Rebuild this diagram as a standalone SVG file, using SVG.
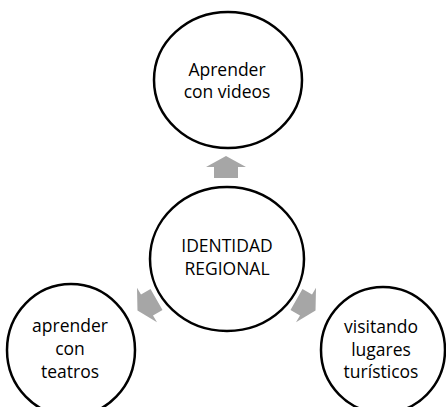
<svg xmlns="http://www.w3.org/2000/svg" width="446" height="407" viewBox="0 0 446 407">
<style>
.node ellipse{fill:#fff;stroke:#000;stroke-width:2.5}
.node text{font-family:"Open Sans","Liberation Sans",sans-serif;font-size:17.5px;fill:#000;text-anchor:middle}
.arrow{fill:#a6a6a6}
</style>
<defs>
<polygon id="arr" points="0,-11 20,0 12,0 12,11 -12,11 -12,0 -20,0"/>
</defs>
<rect width="446" height="407" fill="#fff"/>
<g id="connectors">
<use href="#arr" class="arrow" transform="translate(226,167)"/>
<use href="#arr" class="arrow" transform="translate(147,305) rotate(-120)"/>
<use href="#arr" class="arrow" transform="translate(306,305) rotate(120)"/>
</g>
<g id="n-top" class="node">
<ellipse cx="228" cy="80" rx="74" ry="68"/>
<text x="227" y="76">Aprender</text>
<text x="227" y="98">con videos</text>
</g>
<g id="n-center" class="node">
<ellipse cx="227" cy="259" rx="77" ry="72"/>
<text x="227" y="252">IDENTIDAD</text>
<text x="227" y="275">REGIONAL</text>
</g>
<g id="n-left" class="node">
<ellipse cx="71" cy="350" rx="64" ry="66"/>
<text x="70" y="332">aprender</text>
<text x="70" y="355">con</text>
<text x="70" y="378">teatros</text>
</g>
<g id="n-right" class="node">
<ellipse cx="383" cy="350" rx="62" ry="63"/>
<text x="381" y="333">visitando</text>
<text x="381" y="356">lugares</text>
<text x="381" y="378">turísticos</text>
</g>
</svg>
